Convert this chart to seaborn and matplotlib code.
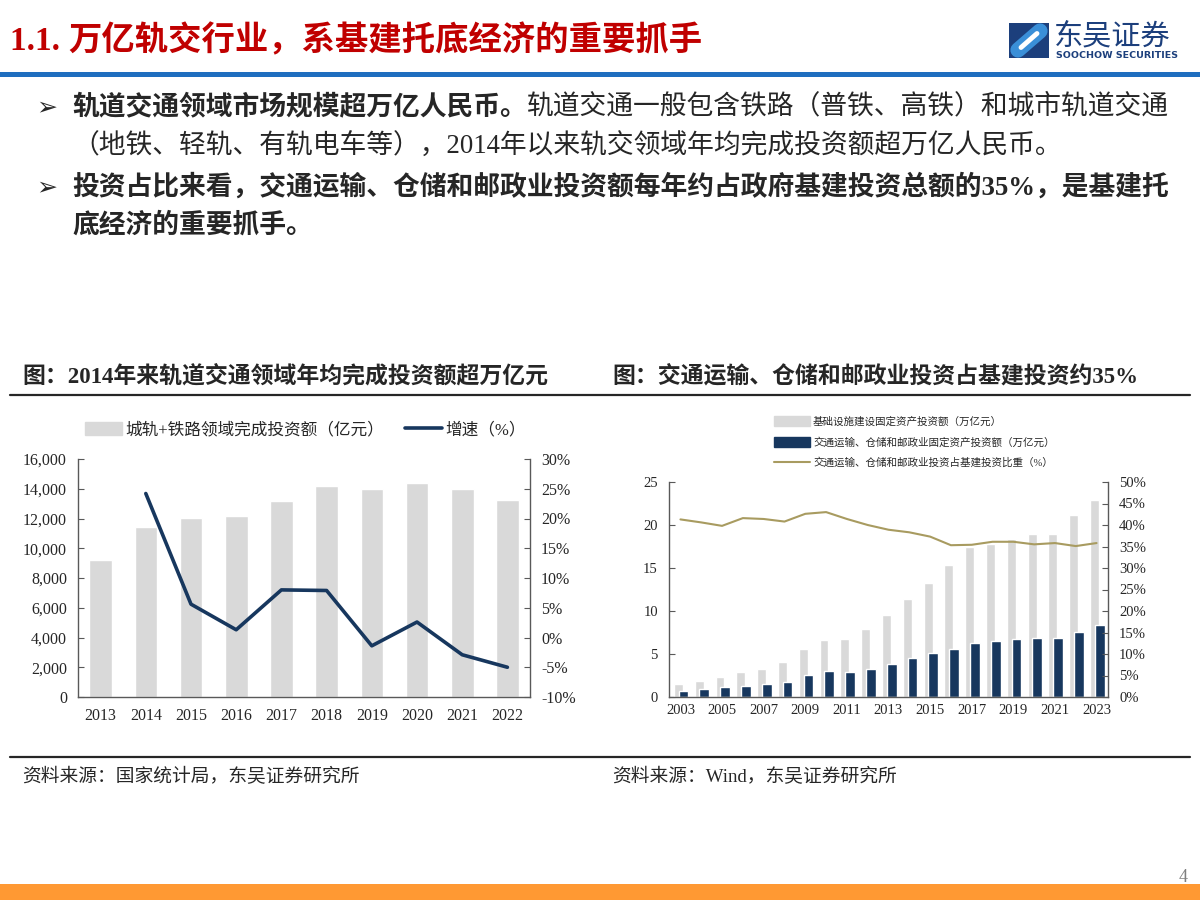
import matplotlib.pyplot as plt
import matplotlib.patches as mpatches
from matplotlib.lines import Line2D
from matplotlib.ticker import FuncFormatter, MultipleLocator, FixedLocator
import numpy as np
import pandas as pd
import seaborn as sns

# ---- data ----
rail_years = ['2013', '2014', '2015', '2016', '2017', '2018', '2019', '2020', '2021', '2022']
rail_invest = [9200, 11400, 12060, 12190, 13150, 14180, 14000, 14360, 13960, 13270]   # 亿元
rail_growth = [np.nan, 24.2, 5.6, 1.3, 8.0, 7.9, -1.4, 2.6, -2.9, -5.0]               # %

infra_years = [str(y) for y in range(2003, 2024)]
infra_invest = [1.49, 1.91, 2.37, 2.91, 3.29, 4.06, 5.63, 6.58, 6.78, 7.85, 9.53,
                11.41, 13.25, 15.31, 17.46, 17.76, 18.34, 18.99, 18.99, 21.17, 22.89]  # 万亿元
transport_invest = [0.73, 0.88, 1.11, 1.30, 1.49, 1.76, 2.53, 2.99, 2.91, 3.25, 3.79,
                    4.48, 5.09, 5.55, 6.32, 6.55, 6.74, 6.81, 6.89, 7.58, 8.35]
transport_share = [41.3, 40.6, 39.8, 41.6, 41.4, 40.8, 42.6, 43.0, 41.4, 40.0, 38.9,
                   38.3, 37.3, 35.3, 35.4, 36.1, 36.1, 35.5, 35.8, 35.1, 35.8]          # %

GREY = '#D9D9D9'
NAVY = '#17375E'
GOLD = '#A89B60'
RED = '#C00000'
SPINE = '#595959'

sns.set_style('white')
plt.rcParams['font.family'] = ['Liberation Serif', 'Noto Sans CJK SC', 'DejaVu Sans']
plt.rcParams['axes.unicode_minus'] = False

fig = plt.figure(figsize=(12, 9), dpi=100)


def fx(x):
    return x / 1200


def fy(y):
    return 1 - y / 900


def runs(x, y, parts, size):
    # draw text pieces one after another, measuring each
    r = fig.canvas.get_renderer()
    for txt, weight in parts:
        t = fig.text(fx(x), fy(y), txt, fontsize=size, fontweight=weight, va='center', ha='left')
        bb = t.get_window_extent(renderer=r)
        x += bb.width


# ---- header ----
runs(10, 41, [('1.1. ', 'bold'), ('万亿轨交行业，系基建托底经济的重要抓手', 'bold')], 24)
for t in fig.texts:
    t.set_color(RED)
fig.add_artist(mpatches.Rectangle((0, fy(77)), 1, 5 / 900, transform=fig.transFigure,
                                  color='#1F6EBF', lw=0))
# logo
fig.add_artist(mpatches.Rectangle((fx(1009), fy(58)), 40 / 1200, 35 / 900,
                                  transform=fig.transFigure, color='#1C3F7C', lw=0))
fig.add_artist(Line2D([fx(1018), fx(1040)], [fy(50), fy(31)], transform=fig.transFigure,
                      lw=11, color='#3A8FD8', solid_capstyle='round'))
fig.add_artist(Line2D([fx(1021), fx(1037)], [fy(47.5), fy(33.5)], transform=fig.transFigure,
                      lw=3.5, color='white', solid_capstyle='round'))
fig.text(fx(1054), fy(36), '东吴证券', fontsize=21, color='#1C3F7C',
         family=['Noto Sans CJK SC'], va='center')
fig.text(fx(1056), fy(55), 'SOOCHOW SECURITIES', fontsize=6.8, color='#1C3F7C',
         family=['DejaVu Sans'], fontweight='bold', va='center')

# ---- bullets ----
body = 19.3
for yy in (107, 187):
    fig.text(fx(36), fy(yy), '➢', fontsize=18, va='center', family=['DejaVu Sans'],
             fontweight='bold')
runs(72, 107, [('轨道交通领域市场规模超万亿人民币。', 'bold'),
               ('轨道交通一般包含铁路（普铁、高铁）和城市轨道交通', 'normal')], body)
runs(72, 147, [('（地铁、轻轨、有轨电车等），2014年以来轨交领域年均完成投资额超万亿人民币。', 'normal')], body)
runs(72, 187, [('投资占比来看，交通运输、仓储和邮政业投资额每年约占政府基建投资总额的35%，是基建托', 'bold')], body)
runs(72, 226, [('底经济的重要抓手。', 'bold')], body)

# ---- chart titles, rules, sources ----
fig.text(fx(22), fy(376), '图：2014年来轨道交通领域年均完成投资额超万亿元', fontsize=16.5,
         fontweight='bold', va='center')
fig.text(fx(612), fy(376), '图：交通运输、仓储和邮政业投资占基建投资约35%', fontsize=16.5,
         fontweight='bold', va='center')
for yy in (395, 757):
    fig.add_artist(Line2D([fx(10), fx(1190)], [fy(yy), fy(yy)], transform=fig.transFigure,
                          lw=1.6, color='#262626'))
fig.text(fx(22), fy(777), '资料来源：国家统计局，东吴证券研究所', fontsize=13.5, va='center')
fig.text(fx(612), fy(777), '资料来源：Wind，东吴证券研究所', fontsize=13.5, va='center')
fig.add_artist(mpatches.Rectangle((0, 0), 1, 16 / 900, transform=fig.transFigure,
                                  color='#FF9933', lw=0))
fig.text(fx(1183), fy(878), '4', fontsize=13, color='#7F7F7F', ha='center', va='center')


def style_axes(ax, ax2):
    for a in (ax, ax2):
        for s in a.spines.values():
            s.set_color(SPINE)
            s.set_linewidth(1)
        a.spines['top'].set_visible(False)
    ax.spines['right'].set_visible(False)
    ax2.spines['left'].set_visible(False)
    ax2.spines['bottom'].set_visible(False)
    ax.tick_params(axis='y', direction='in', length=4, color=SPINE, pad=8)
    ax2.tick_params(axis='y', direction='in', length=4, color=SPINE, pad=8)
    ax.tick_params(axis='x', which='major', length=0, pad=8)
    ax.tick_params(axis='x', which='minor', direction='in', length=4, color=SPINE)
    ax.grid(False)
    ax2.grid(False)
    ax.set_xlabel('')
    ax.set_ylabel('')
    ax2.set_ylabel('')


# ---- left chart ----
axL = fig.add_axes([fx(78), fy(697), fx(530 - 78), (697 - 459) / 900])
dfL = pd.DataFrame({'year': rail_years, 'invest': rail_invest, 'growth': rail_growth})
dfL['pos'] = np.arange(len(dfL))
sns.barplot(data=dfL, x='year', y='invest', color=GREY, width=0.5, saturation=1, ax=axL)
axL2 = axL.twinx()
sns.lineplot(data=dfL.dropna(), x='pos', y='growth', color=NAVY, lw=2.6, ax=axL2)
axL.set_xlim(-0.5, len(dfL) - 0.5)
axL.set_ylim(0, 16000)
axL.yaxis.set_major_locator(MultipleLocator(2000))
axL.yaxis.set_major_formatter(FuncFormatter(lambda v, p: f'{v:,.0f}'))
axL2.set_ylim(-10, 30)
axL2.yaxis.set_major_locator(MultipleLocator(5))
axL2.yaxis.set_major_formatter(FuncFormatter(lambda v, p: f'{v:.0f}%'))
axL.xaxis.set_minor_locator(FixedLocator(np.arange(len(dfL) - 1) + 0.5))
style_axes(axL, axL2)
axL.tick_params(axis='both', labelsize=11.5)
axL2.tick_params(axis='y', labelsize=11.5)

fig.legend([mpatches.Patch(color=GREY), Line2D([], [], color=NAVY, lw=2.6)],
           ['城轨+铁路领域完成投资额（亿元）', '增速（%）'],
           loc='center left', bbox_to_anchor=(fx(85), fy(430)), ncol=2, frameon=False,
           fontsize=12, handlelength=2.2, handleheight=0.8, handletextpad=0.2,
           columnspacing=1.3, borderpad=0, borderaxespad=0)

# ---- right chart ----
axR = fig.add_axes([fx(669), fy(697), fx(1108 - 669), (697 - 482) / 900])
pos = np.arange(len(infra_years))
sns.barplot(x=pos - 0.1, y=infra_invest, native_scale=True, width=0.43, color=GREY,
            saturation=1, ax=axR)
sns.barplot(x=pos + 0.15, y=transport_invest, native_scale=True, width=0.47, color=NAVY,
            saturation=1, ax=axR)
axR2 = axR.twinx()
sns.lineplot(x=pos, y=transport_share, color=GOLD, lw=1.5, ax=axR2)
axR.set_xlim(-0.55, len(pos) - 0.45)
axR.set_ylim(0, 25)
axR.yaxis.set_major_locator(MultipleLocator(5))
axR2.set_ylim(0, 50)
axR2.yaxis.set_major_locator(MultipleLocator(5))
axR2.yaxis.set_major_formatter(FuncFormatter(lambda v, p: f'{v:.0f}%'))
axR.xaxis.set_major_locator(FixedLocator(pos[::2]))
axR.set_xticklabels(infra_years[::2])
axR.xaxis.set_minor_locator(FixedLocator(pos[:-1] + 0.5))
style_axes(axR, axR2)
axR.tick_params(axis='both', labelsize=10.5)
axR2.tick_params(axis='y', labelsize=10.5)
axR.tick_params(axis='x', which='major', pad=5)

fig.legend([mpatches.Patch(color=GREY), mpatches.Patch(color=NAVY),
            Line2D([], [], color=GOLD, lw=1.5)],
           ['基础设施建设固定资产投资额（万亿元）', '交通运输、仓储和邮政业固定资产投资额（万亿元）',
            '交通运输、仓储和邮政业投资占基建投资比重（%）'],
           loc='center left', bbox_to_anchor=(fx(774), fy(442)), ncol=1, frameon=False,
           fontsize=7.6, handlelength=3.4, handleheight=1.1, handletextpad=0.3,
           labelspacing=0.95, borderpad=0, borderaxespad=0)

fig.savefig('out.png', dpi=100)
